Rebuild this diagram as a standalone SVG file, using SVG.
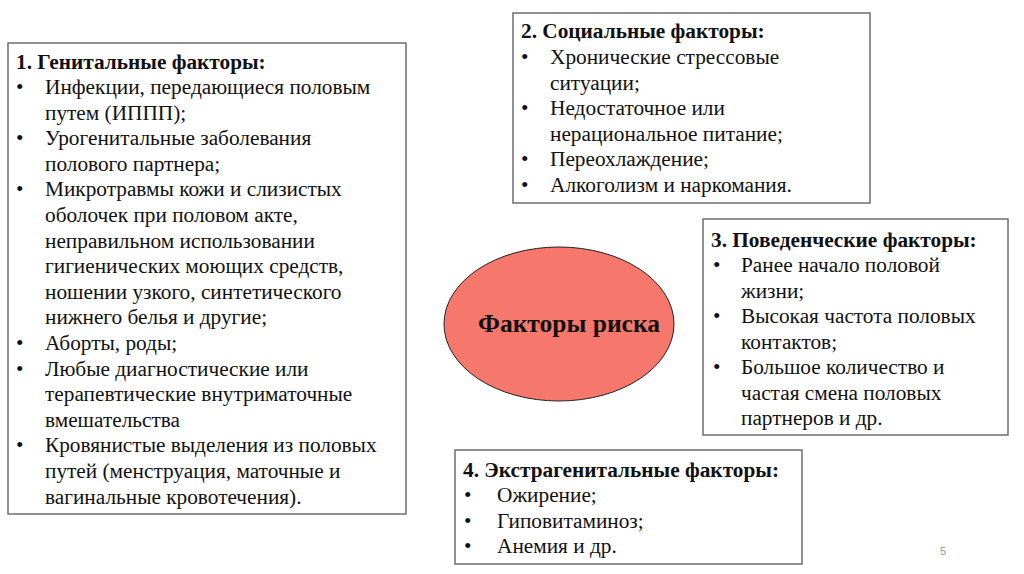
<svg xmlns="http://www.w3.org/2000/svg" width="1024" height="574" viewBox="0 0 1024 574">
<style>
.box{fill:#fff;stroke:#6e6e6e;stroke-width:1.5}
text{font-family:"Liberation Serif","Times New Roman","DejaVu Serif",serif;font-size:21.3px;fill:#111}
.t{font-weight:bold}
.c{font-weight:bold;font-size:25.5px;text-anchor:middle}
.pg{font-family:"Liberation Sans",Arial,sans-serif;font-size:11px;fill:#999}
</style>
<rect width="1024" height="574" fill="#fff"/>
<g id="connectors"></g>
<g id="n1">
<rect class="box" x="8" y="43" width="398" height="471"/>
<text class="t" x="16" y="69">1. Генитальные факторы:</text>
<text x="16" y="94">•</text><text x="45" y="94">Инфекции, передающиеся половым</text>
<text x="45" y="119.6">путем (ИППП);</text>
<text x="16" y="145.2">•</text><text x="45" y="145.2">Урогенитальные заболевания</text>
<text x="45" y="170.8">полового партнера;</text>
<text x="16" y="196.4">•</text><text x="45" y="196.4">Микротравмы кожи и слизистых</text>
<text x="45" y="222">оболочек при половом акте,</text>
<text x="45" y="247.6">неправильном использовании</text>
<text x="45" y="273.2">гигиенических моющих средств,</text>
<text x="45" y="298.8">ношении узкого, синтетического</text>
<text x="45" y="324.4">нижнего белья и другие;</text>
<text x="16" y="350">•</text><text x="45" y="350">Аборты, роды;</text>
<text x="16" y="375.6">•</text><text x="45" y="375.6">Любые диагностические или</text>
<text x="45" y="401.2">терапевтические внутриматочные</text>
<text x="45" y="426.8">вмешательства</text>
<text x="16" y="452.4">•</text><text x="45" y="452.4">Кровянистые выделения из половых</text>
<text x="45" y="478">путей (менструация, маточные и</text>
<text x="45" y="503.6">вагинальные кровотечения).</text>
</g>
<g id="n2">
<rect class="box" x="513" y="13" width="357" height="190"/>
<text class="t" x="521" y="38">2. Социальные факторы:</text>
<text x="521" y="64">•</text><text x="550" y="64">Хронические стрессовые</text>
<text x="550" y="89.5">ситуации;</text>
<text x="521" y="115">•</text><text x="550" y="115">Недостаточное или</text>
<text x="550" y="140.5">нерациональное питание;</text>
<text x="521" y="166">•</text><text x="550" y="166">Переохлаждение;</text>
<text x="521" y="191.5">•</text><text x="550" y="191.5">Алкоголизм и наркомания.</text>
</g>
<g id="n3">
<rect class="box" x="703" y="219" width="305" height="216"/>
<text class="t" x="711" y="247">3. Поведенческие факторы:</text>
<text x="713" y="272">•</text><text x="741" y="272">Ранее начало половой</text>
<text x="741" y="297.5">жизни;</text>
<text x="713" y="323">•</text><text x="741" y="323">Высокая частота половых</text>
<text x="741" y="348.5">контактов;</text>
<text x="713" y="374">•</text><text x="741" y="374">Большое количество и</text>
<text x="741" y="399.5">частая смена половых</text>
<text x="741" y="425">партнеров и др.</text>
</g>
<g id="n4">
<rect class="box" x="455" y="450" width="347" height="114"/>
<text class="t" x="463" y="477">4. Экстрагенитальные факторы:</text>
<text x="464" y="502">•</text><text x="497" y="502">Ожирение;</text>
<text x="464" y="528">•</text><text x="497" y="528">Гиповитаминоз;</text>
<text x="464" y="553">•</text><text x="497" y="553">Анемия и др.</text>
</g>
<g id="center">
<ellipse cx="559" cy="324" rx="115" ry="77" fill="#f6776b" stroke="#222" stroke-width="1"/>
<text class="c" x="569" y="332">Факторы риска</text>
</g>
<text class="pg" x="940" y="555">5</text>
</svg>
